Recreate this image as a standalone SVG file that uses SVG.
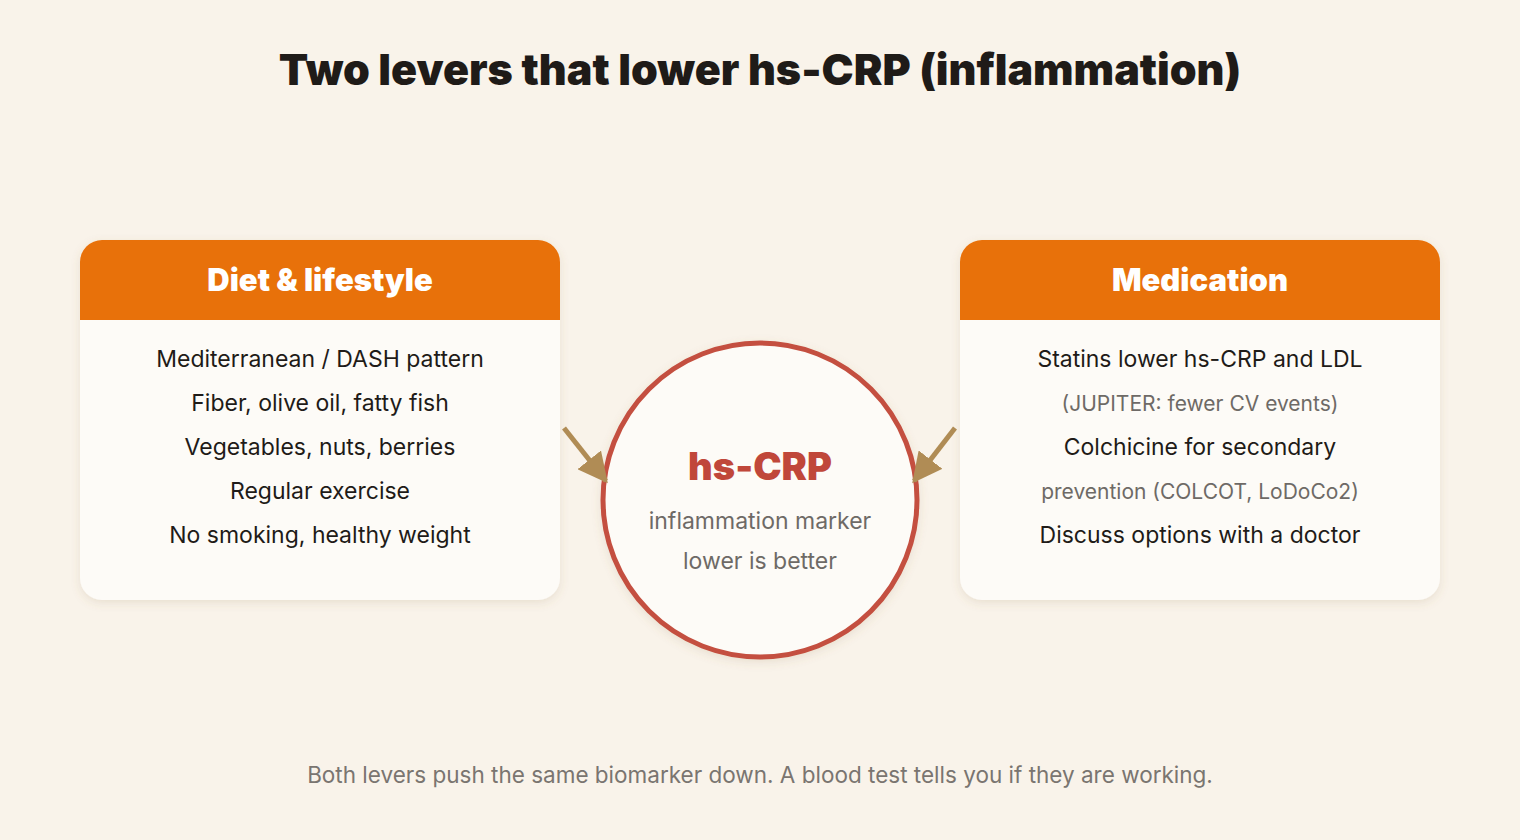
<svg xmlns="http://www.w3.org/2000/svg" width="1520" height="840" viewBox="0 0 1520 840">
<style>
.title{font-family:Inter,"Liberation Sans",sans-serif;font-weight:900;font-size:43px;fill:#1f1b18;text-anchor:middle}
.hdr{font-family:Inter,"Liberation Sans",sans-serif;font-weight:900;font-size:31px;fill:#ffffff;text-anchor:middle}
.item{font-family:Inter,"Liberation Sans",sans-serif;font-size:23px;fill:#1f1b18;text-anchor:middle}
.sub{font-family:Inter,"Liberation Sans",sans-serif;font-size:21px;fill:#6e6a66;text-anchor:middle}
.card{fill:#fdfbf7}
.head{fill:#e8710a}
.big{font-family:Inter,"Liberation Sans",sans-serif;font-weight:900;font-size:38px;fill:#c0473a;text-anchor:middle}
.circ{font-family:Inter,"Liberation Sans",sans-serif;font-size:23px;fill:#6e6a66;text-anchor:middle}
.foot{font-family:Inter,"Liberation Sans",sans-serif;font-size:22.5px;fill:#7a7570;text-anchor:middle}
.arrow{stroke:#b08c55;stroke-width:5;fill:none;marker-end:url(#ah)}
</style>
<defs>
<filter id="sh" x="-10%" y="-10%" width="120%" height="130%">
<feDropShadow dx="0" dy="3" stdDeviation="5" flood-color="#8a6a40" flood-opacity="0.15"/>
</filter>
<marker id="ah" viewBox="0 0 10 10" refX="9" refY="5" markerWidth="6" markerHeight="6" orient="auto" markerUnits="strokeWidth">
<path d="M0,0 L10,5 L0,10 Z" fill="#b08c55"/>
</marker>
<clipPath id="cl"><rect x="80" y="240" width="480" height="360" rx="22"/></clipPath>
<clipPath id="cr"><rect x="960" y="240" width="480" height="360" rx="22"/></clipPath>
</defs>
<rect width="1520" height="840" fill="#f9f3ea"/>
<text class="title" x="760" y="85">Two levers that lower hs-CRP (inflammation)</text>

<g id="diet">
<rect x="80" y="240" width="480" height="360" rx="22" class="card" filter="url(#sh)"/>
<rect x="80" y="240" width="480" height="80" class="head" clip-path="url(#cl)"/>
<text class="hdr" x="320" y="291">Diet &amp; lifestyle</text>
<text class="item" x="320" y="367">Mediterranean / DASH pattern</text>
<text class="item" x="320" y="411">Fiber, olive oil, fatty fish</text>
<text class="item" x="320" y="455">Vegetables, nuts, berries</text>
<text class="item" x="320" y="499">Regular exercise</text>
<text class="item" x="320" y="543">No smoking, healthy weight</text>
</g>

<g id="medication">
<rect x="960" y="240" width="480" height="360" rx="22" class="card" filter="url(#sh)"/>
<rect x="960" y="240" width="480" height="80" class="head" clip-path="url(#cr)"/>
<text class="hdr" x="1200" y="291">Medication</text>
<text class="item" x="1200" y="367">Statins lower hs-CRP and LDL</text>
<text class="sub" x="1200" y="411">(JUPITER: fewer CV events)</text>
<text class="item" x="1200" y="455">Colchicine for secondary</text>
<text class="sub" x="1200" y="499">prevention (COLCOT, LoDoCo2)</text>
<text class="item" x="1200" y="543">Discuss options with a doctor</text>
</g>

<g id="hscrp">
<circle cx="760" cy="500" r="157" fill="#fdfbf7" stroke="#c44f3f" stroke-width="5" filter="url(#sh)"/>
<text class="big" x="760" y="480">hs-CRP</text>
<text class="circ" x="760" y="529">inflammation marker</text>
<text class="circ" x="760" y="569">lower is better</text>
</g>

<g id="connectors">
<line class="arrow" x1="564" y1="428" x2="606" y2="481"/>
<line class="arrow" x1="955" y1="428" x2="914" y2="481"/>
</g>

<text class="foot" x="760" y="783">Both levers push the same biomarker down. A blood test tells you if they are working.</text>
</svg>
